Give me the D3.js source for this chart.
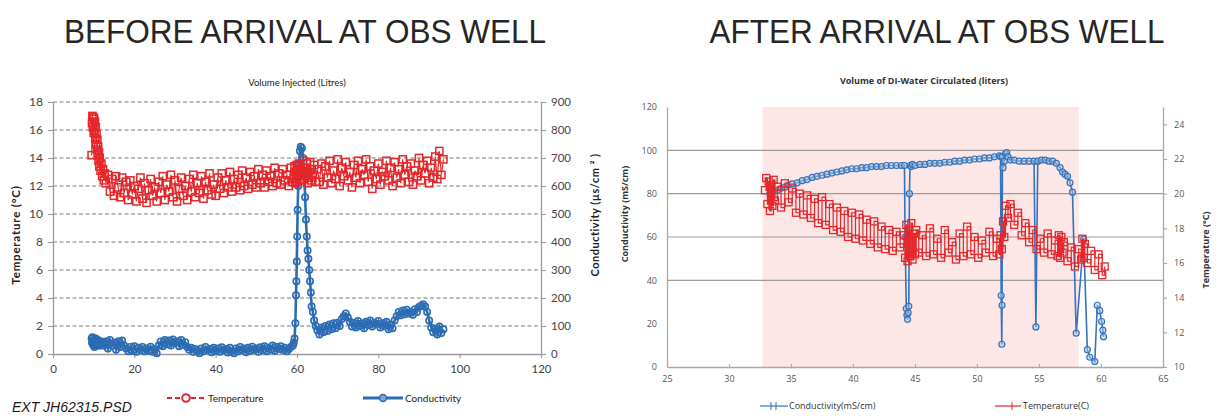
<!DOCTYPE html>
<html>
<head>
<meta charset="utf-8">
<script src="https://cdn.jsdelivr.net/npm/d3@7"></script>
<style>
  html, body { margin: 0; padding: 0; background: #fff; }
  svg { display: block; }
</style>
</head>
<body>
<svg id="chart" width="1224" height="416"></svg>
<script>
// ---------- Before arrival: injection log (shared volume readings) ----------
const leftVolume = [
  9.5,9.6,9.7,9.8,9.9,10.0,10.1,10.2,10.3,10.4,10.5,10.6,10.7,10.8,10.9,11.0,11.1,11.2,11.3,11.4,11.5,11.7,11.9,12.1,12.3,12.5,12.7,
  13,13.5,14,14.5,15,15.5,16,16.5,17,17.5,18,18.5,19,19.5,20,20.5,21,21.5,22,22.5,23,23.5,24,24.5,25,25.5,26,26.5,27,27.5,
  28,28.5,29,29.5,30,30.5,31,31.5,32,32.5,33,33.5,34,34.5,35,35.5,36,36.5,37,37.5,38,38.5,39,39.5,40,40.5,41,41.5,42,42.5,
  43,43.5,44,44.5,45,45.5,46,46.5,47,47.5,48,48.5,49,49.5,50,50.5,51,51.5,52,52.5,53,53.5,54,54.5,55,55.5,56,56.5,57,57.5,58,58.5,59,
  59.2,59.4,59.6,59.75,59.85,59.95,60.05,60.15,60.3,60.5,60.7,60.9,61.2,61.5,61.8,62.0,62.2,62.4,62.6,62.8,63.0,63.2,63.4,63.6,63.9,64.2,64.6,
  65,65.5,66,66.5,67,67.5,68,68.5,69,69.5,70,70.5,71,71.5,72,72.5,73,73.5,74,74.5,75,75.5,76,76.5,77,77.5,78,78.5,79,79.5,
  80,80.5,81,81.5,82,82.5,83,83.5,84,84.5,85,85.5,86,86.5,87,87.5,88,88.5,89,89.5,90,90.5,91,91.5,92,92.5,93,93.5,94,94.5,95,95.5,96
];
// Temperature, °C
const leftTemp = [
  14.2,16.5,17.0,16.2,16.9,15.8,16.8,16.0,16.6,15.4,16.2,15.0,15.7,14.6,15.3,14.2,14.8,13.8,14.4,13.4,14.0,13.1,13.6,12.7,13.2,12.4,12.9,
  12.2,12.8,11.6,12.5,11.3,12.7,11.9,11.2,12.6,11.5,
  12.3,11.0,12.4,11.4,12.0,10.9,11.8,12.6,11.1,12.2,
  10.8,11.7,12.5,11.3,11.9,10.9,12.3,11.5,12.7,11.0,
  12.1,11.6,12.8,11.2,12.4,10.9,11.8,12.6,11.3,12.0,
  11.0,12.5,11.6,12.8,11.2,12.2,11.5,12.7,11.1,12.3,
  11.7,12.9,11.4,12.1,11.3,12.6,11.8,12.9,11.5,12.4,
  11.9,13.0,11.6,12.5,11.9,12.8,11.7,13.1,12.0,12.6,
  11.8,13.0,12.1,12.7,11.9,13.2,12.2,12.8,11.9,13.1,
  12.3,12.7,12.0,13.3,12.2,12.9,12.1,13.2,12.4,12.8,
  12.0,13.3,12.3,
  12.5,13.4,12.2,13.0,12.6,13.5,12.3,13.2,12.8,13.6,12.4,13.1,12.7,13.8,12.5,13.3,12.9,13.6,12.2,13.0,12.6,13.7,12.4,13.2,12.8,13.5,12.3,
  13.2,12.3,13.6,12.1,13.4,12.6,13.8,12.2,13.1,12.5,
  13.9,12.0,13.3,12.7,13.7,12.4,13.0,11.9,13.5,12.6,
  13.8,12.2,13.2,12.8,13.9,12.3,13.4,11.8,13.1,12.5,
  13.6,12.1,13.0,12.7,13.8,12.4,13.3,12.0,13.7,12.6,
  13.2,12.2,13.9,12.8,13.4,12.3,13.6,12.1,13.1,12.7,
  14.0,12.4,13.5,12.9,13.8,12.2,13.3,12.6,14.1,12.5,
  14.5,12.8,13.9
];
// Conductivity, µS/cm
const leftCond = [
  55,40,60,35,50,30,45,25,50,35,55,40,30,45,35,50,40,30,45,35,40,30,45,35,40,30,38,
  45,20,50,30,40,15,45,25,48,30,
  20,10,25,12,28,8,22,15,25,10,
  20,12,26,8,18,3,30,45,28,50,
  35,48,30,52,38,45,28,50,33,42,
  25,15,22,8,18,12,3,20,10,25,
  14,18,6,22,12,20,8,24,14,18,
  5,22,12,3,20,10,25,14,20,6,
  22,12,26,15,20,8,24,14,28,10,
  22,16,30,12,25,18,28,14,22,10,
  18,25,30,
  40,55,110,210,260,330,420,515,600,680,725,740,735,700,640,560,480,420,370,340,300,260,220,170,150,120,100,
  85,70,95,78,100,82,105,88,110,92,
  112,100,125,135,145,130,115,98,112,95,
  118,100,110,92,115,104,120,98,112,106,
  118,95,110,100,115,88,105,92,120,135,
  150,138,155,142,158,145,150,140,160,150,
  168,172,178,170,150,120,95,78,90,70,
  98,75,88
];
const leftVolumeTicks = [0, 20, 40, 60, 80, 100, 120];
const leftTempTicks = [0, 2, 4, 6, 8, 10, 12, 14, 16, 18];
const leftCondTicks = [0, 100, 200, 300, 400, 500, 600, 700, 800, 900];

// ---------- After arrival: DI-water circulation log ----------
const rightCondVolume = [
  33.3,33.6,33.9,34.2,34.5,34.8,35.1,35.5,35.9,36.3,
  36.7,37.1,37.5,37.9,38.3,38.7,39.1,39.5,39.9,40.3,
  40.7,41.1,41.5,41.9,42.3,42.7,43.1,43.5,43.9,44.15,
  44.2,44.3,44.35,44.4,44.45,44.5,44.55,44.6,44.7,44.8,
  45.0,45.4,45.8,46.2,46.6,47.0,47.4,47.8,48.2,48.6,
  49.0,49.4,49.8,50.2,50.6,51.0,51.4,51.8,51.9,51.95,
  52.0,52.02,52.05,52.1,52.2,52.3,52.4,52.5,52.7,53.0,
  53.4,53.8,54.2,54.6,54.75,54.9,55.2,55.5,55.8,56.1,
  56.4,56.7,56.9,57.1,57.3,57.5,57.7,58.0,58.6,58.9,
  59.1,59.5,59.7,59.9,60.05,60.15,60.2
];
// Conductivity, mS/cm
const rightCond = [
  80,81,81.5,82.5,83,84,84.5,85,86,86.5,
  87.5,88,88.5,89,89.5,90,90.5,91,91.5,91.5,
  92,92,92.5,92.5,92.5,93,93,93,93,93,
  60,27,24,22,25,28,80,93,92.5,93.5,
  93,93.5,93.5,94,94,94,94.5,94.5,95,95,
  95.5,95.5,96,96,96.5,96.5,97,97.5,97,33,
  10.5,28.5,97,92,95,98.5,99,97,95.5,95.5,
  95,95,95,95,18.5,95,95.5,95.5,95,95,
  94,92,90,89,88,85,80.7,15.6,59,8,
  4.5,2.5,28.5,26,21,17,14
];
const rightTempVolume = [
  32.9,33.0,33.1,33.2,33.3,33.4,33.5,33.6,33.7,33.9,34.2,34.5,34.8,35.1,35.4,35.7,36.0,36.3,36.6,36.9,
  37.2,37.5,37.8,38.1,38.4,38.7,39.0,39.3,39.6,39.9,40.2,40.5,40.8,41.1,41.4,41.7,42.0,42.3,42.6,42.9,
  43.2,43.5,43.8,44.1,44.2,44.3,44.4,44.5,44.6,44.7,44.8,44.9,45.0,45.1,45.3,45.6,45.9,46.2,46.5,46.8,
  47.1,47.4,47.7,48.0,48.3,48.6,48.9,49.2,49.5,49.8,50.1,50.4,50.7,51.0,51.3,51.6,51.8,51.9,52.0,52.1,
  52.2,52.3,52.5,52.7,53.0,53.3,53.6,53.9,54.2,54.5,54.8,55.1,55.4,55.7,56.0,56.3,56.5,56.6,56.7,56.8,
  56.9,57.0,57.3,57.6,57.9,58.2,58.4,58.5,58.6,58.7,58.9,59.2,59.5,59.8,60.1,60.3
];
// Temperature, °C
const rightTemp = [
  20.2,20.9,19.4,20.7,19.0,20.5,19.3,20.8,19.6,20.4,19.2,20.6,19.5,20.3,18.9,20.0,18.8,19.9,18.6,19.7,
  18.3,19.8,18.2,19.4,17.9,19.2,17.8,19.0,17.5,18.9,17.4,18.8,17.3,18.5,17.1,18.4,16.9,18.1,16.8,17.9,
  16.7,17.8,16.9,17.6,16.3,18.2,16.1,17.9,16.4,18.3,16.2,17.7,16.5,17.9,16.6,17.6,16.4,18.0,16.5,17.4,
  16.3,17.9,16.6,17.2,16.2,17.7,16.4,18.1,16.5,17.5,16.3,17.3,16.6,17.8,16.4,17.4,16.5,17.6,16.8,18.4,
  17.5,19.3,18.6,19.4,18.2,18.9,17.6,18.3,17.2,17.9,16.8,17.4,16.6,17.7,16.5,17.3,16.4,17.6,16.3,17.5,
  16.6,17.2,16.1,16.9,15.8,16.8,16.2,17.4,16.3,17.1,16.0,16.7,15.6,16.5,15.3,15.8
];
const circulationWindow = [32.7, 58.2];
const rightVolumeTicks = [25, 30, 35, 40, 45, 50, 55, 60, 65];
const rightCondTicks = [0, 20, 40, 60, 80, 100, 120];
const rightCondGrid = [40, 60, 80, 100];
const rightTempTicks = [10, 12, 14, 16, 18, 20, 22, 24];

// ---------- drawing ----------
const svg = d3.select("#chart");
const RED = "#e5262a", BLUE = "#2b6cb3";
const tickFont = "Lato, 'Open Sans', sans-serif";
const rFont = "'Open Sans', 'Noto Sans', sans-serif";

function title(x, text, len) {
  svg.append("text")
    .attr("x", x).attr("y", 43)
    .attr("text-anchor", "middle")
    .attr("font-family", "'Liberation Sans', Arial, sans-serif")
    .attr("font-size", 34)
    .attr("fill", "#262626")
    .attr("textLength", len).attr("lengthAdjust", "spacingAndGlyphs")
    .text(text);
}
title(305, "BEFORE ARRIVAL AT OBS WELL", 482);
title(937, "AFTER ARRIVAL AT OBS WELL", 455);

function styleAxis(g, color, font, size, textColor) {
  g.selectAll("path.domain").attr("stroke", color).attr("stroke-width", 1.3);
  g.selectAll(".tick line").attr("stroke", color).attr("stroke-width", 1.1);
  g.selectAll(".tick text").attr("font-family", font).attr("font-size", size).attr("fill", textColor);
}

// ===== Left chart =====
const L = svg.append("g");
const xL = d3.scaleLinear().domain([0, 120]).range([53, 541]);
const yLT = d3.scaleLinear().domain([0, 18]).range([354, 102]);
const yLC = d3.scaleLinear().domain([0, 900]).range([354, 102]);

L.append("g").selectAll("line").data(leftTempTicks.filter(d => d > 0)).join("line")
  .attr("x1", xL(0)).attr("x2", xL(120))
  .attr("y1", d => yLT(d)).attr("y2", d => yLT(d))
  .attr("stroke", "#7a7a7a").attr("stroke-width", 1.2).attr("stroke-dasharray", "4,2.5");

const axLx = L.append("g").attr("transform", `translate(0,${yLT(0)})`)
  .call(d3.axisBottom(xL).tickValues(leftVolumeTicks).tickSize(4).tickSizeOuter(0).tickPadding(7));
styleAxis(axLx, "#9a9a9a", tickFont, 11.5, "#444");
const axLl = L.append("g").attr("transform", `translate(${xL(0)},0)`)
  .call(d3.axisLeft(yLT).tickValues(leftTempTicks).tickSize(5).tickSizeOuter(0).tickPadding(5));
styleAxis(axLl, "#9a9a9a", tickFont, 12, "#444");
const axLr = L.append("g").attr("transform", `translate(${xL(120)},0)`)
  .call(d3.axisRight(yLC).tickValues(leftCondTicks).tickSize(5).tickSizeOuter(0).tickPadding(5));
styleAxis(axLr, "#9a9a9a", tickFont, 11.5, "#444");

L.append("text").attr("x", 297).attr("y", 86).attr("text-anchor", "middle")
  .attr("font-family", tickFont).attr("font-size", 9.5).attr("fill", "#222")
  .text("Volume Injected (Litres)");
L.append("text").attr("transform", "translate(20,235) rotate(-90)").attr("text-anchor", "middle")
  .attr("font-family", tickFont).attr("font-size", 11.5).attr("font-weight", "bold").attr("fill", "#222")
  .attr("letter-spacing", 0.8)
  .text("Temperature  (°C)");
L.append("text").attr("transform", "translate(599,215) rotate(-90)").attr("text-anchor", "middle")
  .attr("font-family", tickFont).attr("font-size", 11).attr("font-weight", "bold").attr("fill", "#222")
  .attr("letter-spacing", 0.5)
  .text("Conductivity  (µs/cm ² )");

const leftRows = leftVolume.map((v, i) => ({ v, t: leftTemp[i], c: leftCond[i] }));

// conductivity (drawn first, temperature on top)
L.append("path").datum(leftRows)
  .attr("d", d3.line().x(d => xL(d.v)).y(d => yLC(d.c)))
  .attr("fill", "none").attr("stroke", BLUE).attr("stroke-width", 2.6);
L.append("g").selectAll("circle").data(leftRows).join("circle")
  .attr("cx", d => xL(d.v)).attr("cy", d => yLC(d.c)).attr("r", 3.2)
  .attr("fill", "none").attr("stroke", BLUE).attr("stroke-width", 1.6);

L.append("path").datum(leftRows)
  .attr("d", d3.line().x(d => xL(d.v)).y(d => yLT(d.t)))
  .attr("fill", "none").attr("stroke", RED).attr("stroke-width", 1.1);
L.append("g").selectAll("rect").data(leftRows).join("rect")
  .attr("x", d => xL(d.v) - 3.6).attr("y", d => yLT(d.t) - 3.6)
  .attr("width", 7.2).attr("height", 7.2)
  .attr("fill", "none").attr("stroke", RED).attr("stroke-width", 1.5);

// left legend
L.append("line").attr("x1", 167).attr("x2", 205).attr("y1", 398).attr("y2", 398)
  .attr("stroke", RED).attr("stroke-width", 2.2).attr("stroke-dasharray", "5,3");
L.append("circle").attr("cx", 186).attr("cy", 398).attr("r", 3.8)
  .attr("fill", "#fff").attr("stroke", RED).attr("stroke-width", 2);
L.append("text").attr("x", 208).attr("y", 402).attr("font-family", tickFont).attr("font-size", 10).attr("fill", "#222")
  .text("Temperature");
L.append("line").attr("x1", 363).attr("x2", 403).attr("y1", 398).attr("y2", 398)
  .attr("stroke", BLUE).attr("stroke-width", 3);
L.append("circle").attr("cx", 383).attr("cy", 398).attr("r", 3.5)
  .attr("fill", "#7fa6d6").attr("stroke", BLUE).attr("stroke-width", 1.5);
L.append("text").attr("x", 405).attr("y", 402).attr("font-family", tickFont).attr("font-size", 10).attr("fill", "#222")
  .text("Conductivity");

svg.append("text").attr("x", 12).attr("y", 412)
  .attr("font-family", "'Liberation Sans', Arial, sans-serif").attr("font-size", 14).attr("font-style", "italic")
  .attr("fill", "#1a1a1a").text("EXT JH62315.PSD");

// ===== Right chart =====
const R = svg.append("g");
const xR = d3.scaleLinear().domain([25, 65]).range([667, 1163]);
const yRC = d3.scaleLinear().domain([0, 120]).range([367, 107]);
const yRT = d3.scaleLinear().domain([10, 25]).range([367, 107]);

R.append("rect")
  .attr("x", xR(circulationWindow[0])).attr("y", yRC(120))
  .attr("width", xR(circulationWindow[1]) - xR(circulationWindow[0]))
  .attr("height", yRC(0) - yRC(120))
  .attr("fill", "#fce6e6");

R.append("g").selectAll("line").data(rightCondGrid).join("line")
  .attr("x1", xR(25)).attr("x2", xR(65))
  .attr("y1", d => yRC(d)).attr("y2", d => yRC(d))
  .attr("stroke", "#9c9c9c").attr("stroke-width", 1.2);

const axRx = R.append("g").attr("transform", `translate(0,${yRC(0)})`)
  .call(d3.axisBottom(xR).tickValues(rightVolumeTicks).tickSizeInner(-3).tickSizeOuter(0).tickPadding(9));
styleAxis(axRx, "#a8a8a8", rFont, 9, "#555");
const axRl = R.append("g").attr("transform", `translate(${xR(25)},0)`)
  .call(d3.axisLeft(yRC).tickValues(rightCondTicks).tickSize(0).tickPadding(10));
styleAxis(axRl, "#a8a8a8", rFont, 9, "#555");
const axRr = R.append("g").attr("transform", `translate(${xR(65)},0)`)
  .call(d3.axisRight(yRT).tickValues(rightTempTicks).tickSize(4).tickSizeOuter(0).tickPadding(7));
styleAxis(axRr, "#a8a8a8", rFont, 9, "#555");

R.append("text").attr("x", 924).attr("y", 84).attr("text-anchor", "middle")
  .attr("font-family", rFont).attr("font-size", 9).attr("font-weight", "bold").attr("fill", "#333")
  .text("Volume of DI-Water Circulated (liters)");
R.append("text").attr("transform", "translate(628,214) rotate(-90)").attr("text-anchor", "middle")
  .attr("font-family", rFont).attr("font-size", 9).attr("font-weight", "bold").attr("fill", "#333")
  .text("Conductivity  (mS/cm)");
R.append("text").attr("transform", "translate(1209,250) rotate(-90)").attr("text-anchor", "middle")
  .attr("font-family", rFont).attr("font-size", 9).attr("font-weight", "bold").attr("fill", "#333")
  .text("Temperature (°C)");

const condRows = rightCondVolume.map((v, i) => ({ v, c: rightCond[i] }));
const tempRows = rightTempVolume.map((v, i) => ({ v, t: rightTemp[i] }));

R.append("path").datum(condRows)
  .attr("d", d3.line().x(d => xR(d.v)).y(d => yRC(d.c)))
  .attr("fill", "none").attr("stroke", "#3573ba").attr("stroke-width", 1.6);
R.append("g").selectAll("circle").data(condRows).join("circle")
  .attr("cx", d => xR(d.v)).attr("cy", d => yRC(d.c)).attr("r", 3)
  .attr("fill", "#a9c4e6").attr("fill-opacity", 0.5).attr("stroke", "#3573ba").attr("stroke-width", 1.2);

R.append("path").datum(tempRows)
  .attr("d", d3.line().curve(d3.curveStepAfter).x(d => xR(d.v)).y(d => yRT(d.t)))
  .attr("fill", "none").attr("stroke", RED).attr("stroke-width", 1.2);
R.append("g").selectAll("rect").data(tempRows).join("rect")
  .attr("x", d => xR(d.v) - 3.5).attr("y", d => yRT(d.t) - 3.5)
  .attr("width", 7).attr("height", 7)
  .attr("fill", "none").attr("stroke", RED).attr("stroke-width", 1.3);

// right legend
R.append("line").attr("x1", 760).attr("x2", 788).attr("y1", 406).attr("y2", 406)
  .attr("stroke", "#3573ba").attr("stroke-width", 1.2);
R.selectAll("line.lm").data([771, 776]).join("line").attr("class", "lm")
  .attr("x1", d => d).attr("x2", d => d).attr("y1", 402).attr("y2", 410)
  .attr("stroke", "#3573ba").attr("stroke-width", 1);
R.append("text").attr("x", 789).attr("y", 409).attr("font-family", rFont).attr("font-size", 9).attr("fill", "#333")
  .text("Conductivity(mS/cm)");
R.append("line").attr("x1", 995).attr("x2", 1021).attr("y1", 406).attr("y2", 406)
  .attr("stroke", RED).attr("stroke-width", 1.2);
R.append("line").attr("x1", 1012).attr("x2", 1012).attr("y1", 402).attr("y2", 410)
  .attr("stroke", RED).attr("stroke-width", 1);
R.append("text").attr("x", 1023).attr("y", 409).attr("font-family", rFont).attr("font-size", 9).attr("fill", "#333")
  .text("Temperature(C)");
</script>
</body>
</html>
